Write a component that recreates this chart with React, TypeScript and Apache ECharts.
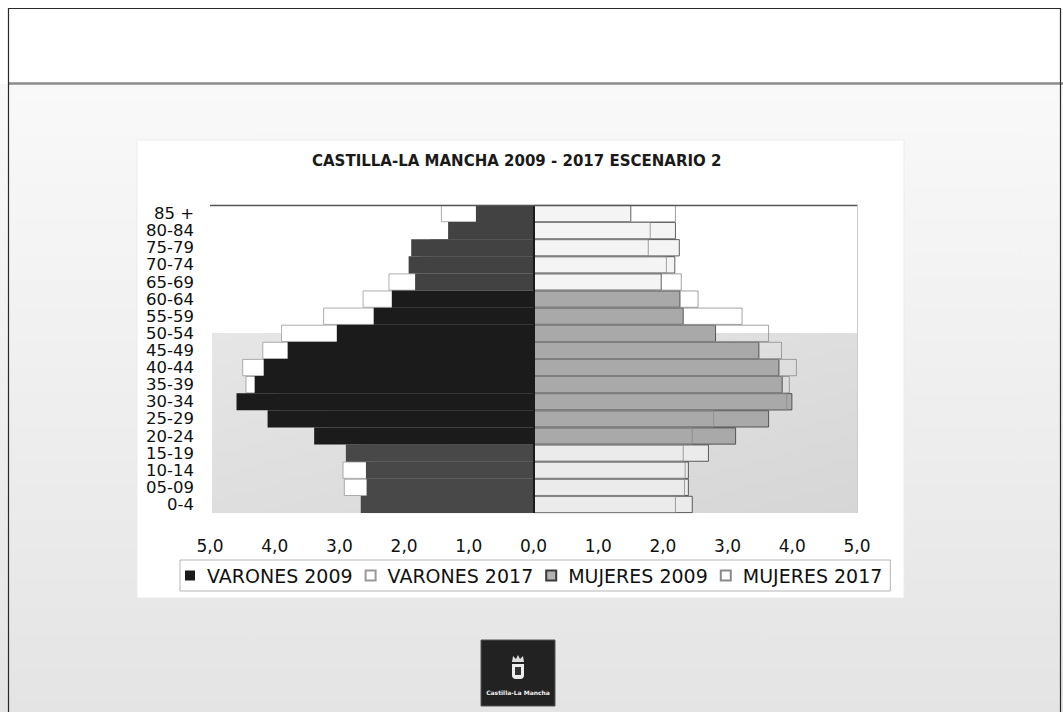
import React, { useEffect, useRef } from 'react';
import * as echarts from 'echarts';

// Age groups, bottom to top
const categories = ['0-4', '05-09', '10-14', '15-19', '20-24', '25-29', '30-34', '35-39', '40-44', '45-49', '50-54', '55-59', '60-64', '65-69', '70-74', '75-79', '80-84', '85 +'];

// Percent of population
const varones2009 = [2.67, 2.58, 2.59, 2.90, 3.39, 4.11, 4.59, 4.31, 4.17, 3.80, 3.04, 2.47, 2.19, 1.83, 1.93, 1.89, 1.32, 0.89];
const varones2017 = [2.55, 2.93, 2.95, 2.50, 2.70, 3.20, 3.95, 4.45, 4.50, 4.19, 3.90, 3.25, 2.64, 2.24, 1.75, 1.60, 1.30, 1.43];
const mujeres2009 = [2.46, 2.40, 2.40, 2.71, 3.13, 3.64, 4.00, 3.85, 3.80, 3.49, 2.82, 2.32, 2.27, 1.98, 2.19, 2.26, 2.20, 1.51];
const mujeres2017 = [2.20, 2.34, 2.35, 2.32, 2.46, 2.79, 3.92, 3.96, 4.07, 3.84, 3.64, 3.23, 2.55, 2.29, 2.06, 1.78, 1.81, 2.20];

const seriesNames = ['VARONES 2009', 'VARONES 2017', 'MUJERES 2009', 'MUJERES 2017'];
const titleText = 'CASTILLA-LA MANCHA 2009 - 2017 ESCENARIO 2';

const FONT = '"DejaVu Sans", Verdana, sans-serif';

function band(i: number): 'low' | 'mid' | 'high' {
  return i <= 3 ? 'low' : i >= 13 ? 'high' : 'mid';
}
const v09Colors = { low: '#484848', mid: '#1b1b1b', high: '#424242' };
const m09Colors = { low: '#ebebeb', mid: '#a9a9a9', high: '#f4f4f4' };

export default function App() {
  const ref = useRef<HTMLDivElement>(null);
  useEffect(() => {
    const chart = echarts.init(ref.current!, null, { renderer: 'svg' });
    chart.setOption({
      animation: false,
      backgroundColor: '#ffffff',
      textStyle: { fontFamily: FONT },
      title: {
        text: titleText,
        left: 312,
        top: 153,
        padding: 0,
        textStyle: { fontFamily: FONT, fontSize: 15, fontWeight: 'bold', color: '#1a1a1a' },
      },
      legend: {
        data: seriesNames,
        left: 180,
        top: 560,
        padding: [6, 8, 6, 5],
        icon: 'rect',
        itemWidth: 10,
        itemHeight: 10,
        itemGap: 12,
        borderColor: '#b5b5b5',
        borderWidth: 1,
        backgroundColor: '#ffffff',
        textStyle: { fontFamily: FONT, fontSize: 19, color: '#111', padding: [0, 0, 0, 7] },
      },
      grid: { left: 210, right: 206, top: 205, bottom: 199, containLabel: false },
      xAxis: {
        type: 'value',
        min: -5,
        max: 5,
        interval: 1,
        axisLine: { show: false },
        axisTick: { show: false },
        splitLine: { show: false },
        axisLabel: {
          fontFamily: FONT,
          fontSize: 17,
          color: '#111',
          margin: 24,
          formatter: (v: number) => Math.abs(v).toFixed(1).replace('.', ','),
        },
      },
      yAxis: {
        type: 'category',
        data: categories,
        axisLine: { show: false },
        axisTick: { show: false },
        splitLine: { show: false },
        axisLabel: { fontFamily: FONT, fontSize: 16.5, color: '#111', margin: 16, interval: 0, lineHeight: 16 },
      },
      graphic: [
        { type: 'rect', z: -100, shape: { x: 0, y: 84, width: 1063, height: 628 },
          style: { fill: new echarts.graphic.LinearGradient(0, 0, 0, 1, [{ offset: 0, color: '#f9f9f9' }, { offset: 1, color: '#e4e4e4' }]) } },
        { type: 'line', z: -90, shape: { x1: 8, y1: 83.5, x2: 1063, y2: 83.5 }, style: { stroke: '#8c8c8c', lineWidth: 2.5 } },
        { type: 'rect', z: -90, shape: { x: 8.5, y: 8.5, width: 1052, height: 720 }, style: { fill: 'none', stroke: '#2a2a2a', lineWidth: 1.2 } },
        { type: 'rect', z: -80, shape: { x: 137, y: 140, width: 767, height: 458 }, style: { fill: '#ffffff', stroke: '#ececec', lineWidth: 1 } },
        { type: 'rect', z: -70, shape: { x: 212, y: 333, width: 645, height: 180 },
          style: { fill: new echarts.graphic.LinearGradient(0, 0, 1, 1, [{ offset: 0, color: '#e6e6e6' }, { offset: 1, color: '#d6d6d6' }]) } },
        { type: 'line', z: 10, shape: { x1: 210, y1: 205.5, x2: 858, y2: 205.5 }, style: { stroke: '#555', lineWidth: 1.3 } },
        { type: 'line', z: 10, shape: { x1: 857.5, y1: 205, x2: 857.5, y2: 513 }, style: { stroke: '#cccccc', lineWidth: 1 } },
        // logo
        { type: 'rect', shape: { x: 481, y: 640, width: 74, height: 66 }, style: { fill: '#222', stroke: '#555', lineWidth: 1 } },
        { type: 'polygon', shape: { points: [[512, 662], [513, 656], [516, 659], [518, 655], [520, 659], [523, 656], [524, 662]] }, style: { fill: '#ddd' } },
        { type: 'rect', shape: { x: 512, y: 664, width: 12, height: 15, r: [0, 0, 4, 4] }, style: { fill: '#eee' } },
        { type: 'rect', shape: { x: 515, y: 667, width: 6, height: 8 }, style: { fill: '#333' } },
        { type: 'text', style: { x: 518, y: 692, text: 'Castilla-La Mancha', fill: '#f0f0f0', fontSize: 6, fontWeight: 'bold', fontFamily: FONT, align: 'center', verticalAlign: 'middle' } },
      ],
      series: [
        {
          name: 'VARONES 2017',
          type: 'bar',
          barGap: '-100%',
          barCategoryGap: '0%',
          itemStyle: { color: '#ffffff', borderColor: '#999', borderWidth: 0.8 },
          data: varones2017.map((v) => -v),
        },
        {
          name: 'VARONES 2009',
          type: 'bar',
          barGap: '-100%',
          barCategoryGap: '0%',
          itemStyle: { color: '#1b1b1b' },
          data: varones2009.map((v, i) => ({ value: -v, itemStyle: { color: v09Colors[band(i)] } })),
          markLine: {
            silent: true,
            symbol: 'none',
            label: { show: false },
            lineStyle: { color: '#1a1a1a', width: 2, type: 'solid' },
            data: [{ xAxis: 0 }],
          },
        },
        {
          name: 'MUJERES 2009',
          type: 'bar',
          barGap: '-100%',
          barCategoryGap: '0%',
          itemStyle: { color: '#b3b3b3', borderColor: '#3a3a3a', borderWidth: 0.8 },
          data: mujeres2009.map((v, i) => ({ value: v, itemStyle: { color: m09Colors[band(i)] } })),
        },
        {
          name: 'MUJERES 2017',
          type: 'bar',
          barGap: '-100%',
          barCategoryGap: '0%',
          itemStyle: { color: 'rgba(255,255,255,0)', borderColor: '#8a8a8a', borderWidth: 0.8 },
          data: mujeres2017.slice(),
        },
      ],
    });
    return () => chart.dispose();
  }, []);
  return <div ref={ref} style={{ position: 'absolute', left: 0, top: 0, width: 1063, height: 712 }} />;
}
